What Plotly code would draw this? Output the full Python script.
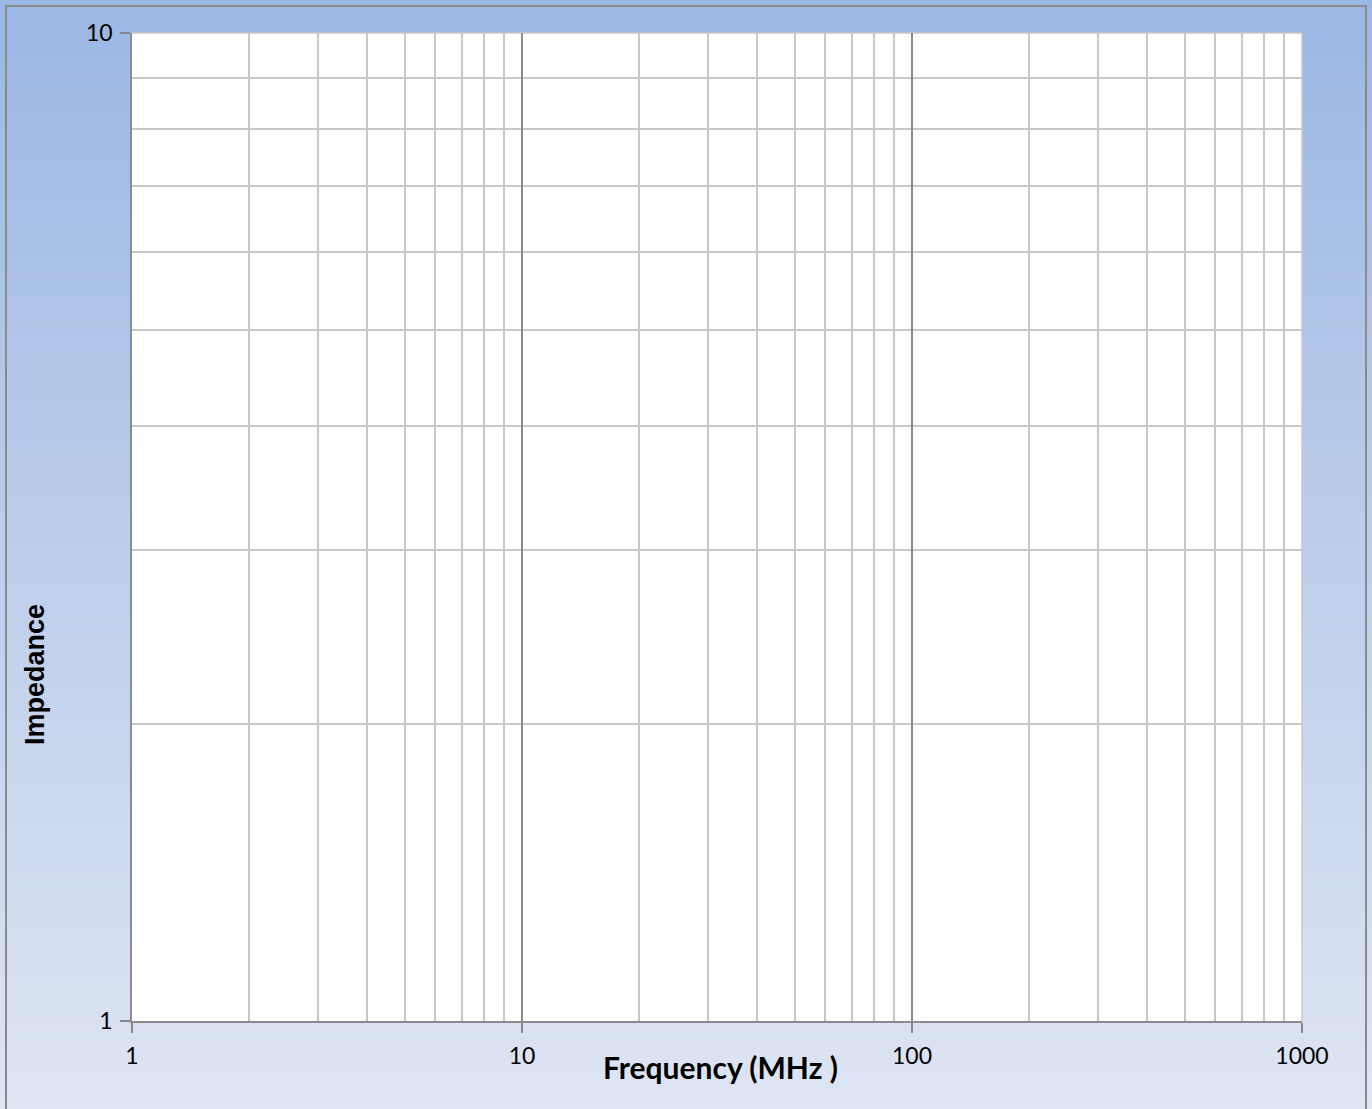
import plotly.graph_objects as go

# ---- data / axis definitions ----
x_range_log = [0, 3]            # 1 .. 1000 MHz
y_range_log = [0, 1]            # 1 .. 10
x_major_ticks = [1, 10, 100, 1000]
x_major_labels = ["1", "10", "100", "1000"]
y_major_ticks = [1, 10]
y_major_labels = ["1", "10"]
x_minor_ticks = [m * d for d in (1, 10, 100) for m in range(2, 10)]
y_minor_ticks = [m for m in range(2, 10)]
x_title = "Frequency (MHz )"
y_title = "Impedance"

W, H = 1372, 1109
L, R, T, B = 132, 1302, 33, 1021
pw, ph = R - L, B - T

def px_x(p):
    return (p - L) / pw

def px_y(p):
    return (B - p) / ph

fig = go.Figure()
fig.add_trace(go.Scatter(x=[], y=[], mode="lines", showlegend=False))

shapes = []
# gradient background (top blue -> bottom pale)
top = (155, 183, 228)
bot = (222, 229, 243)
n = 110
for i in range(n):
    y0p = i * H / n
    y1p = (i + 1) * H / n + 1
    t = (i + 0.5) / n
    c = tuple(round(top[k] + (bot[k] - top[k]) * t) for k in range(3))
    shapes.append(dict(type="rect", xref="paper", yref="paper", layer="below",
                       x0=px_x(0), x1=px_x(W), y0=px_y(y1p), y1=px_y(y0p),
                       fillcolor="rgb(%d,%d,%d)" % c, line=dict(width=0)))
# white plot area
shapes.append(dict(type="rect", xref="paper", yref="paper", layer="below",
                   x0=0, x1=1, y0=0, y1=1, fillcolor="white", line=dict(width=0)))
# outer border
shapes.append(dict(type="rect", xref="paper", yref="paper", layer="above",
                   x0=px_x(6), x1=px_x(1366), y0=px_y(1130), y1=px_y(6),
                   fillcolor="rgba(0,0,0,0)", line=dict(color="#8a8a8a", width=2)))
# plot border lines at top and right (light grey)
shapes.append(dict(type="line", xref="paper", yref="paper", x0=1, x1=1, y0=0, y1=1,
                   line=dict(color="#c8c8c8", width=1.5), layer="below"))
shapes.append(dict(type="line", xref="paper", yref="paper", x0=0, x1=1, y0=1, y1=1,
                   line=dict(color="#c8c8c8", width=1.5), layer="below"))

font_fam = "Lato, 'Open Sans', sans-serif"

fig.update_layout(
    width=W, height=H,
    margin=dict(l=L, r=W - R, t=T, b=H - B, pad=0),
    paper_bgcolor="rgb(222,229,243)",
    plot_bgcolor="rgba(0,0,0,0)",
    shapes=shapes,
    showlegend=False,
    font=dict(family=font_fam, color="#000000"),
    xaxis=dict(type="log", range=x_range_log, tickmode="array",
               tickvals=x_major_ticks, ticktext=x_major_labels,
               ticks="outside", ticklen=10, tickcolor="#888888", tickwidth=1.5,
               showgrid=True, gridcolor="#8c8c8c", gridwidth=1.5,
               showline=True, linecolor="#8c8c8c", linewidth=1.5,
               tickfont=dict(size=23, family=font_fam),
               ticklabelstandoff=4,
               minor=dict(tickmode="array", tickvals=x_minor_ticks, showgrid=True,
                          gridcolor="#c8c8c8", gridwidth=1.5, ticks=""),
               zeroline=False, mirror=False, fixedrange=True),
    yaxis=dict(type="log", range=y_range_log, tickmode="array",
               tickvals=y_major_ticks, ticktext=y_major_labels,
               ticks="outside", ticklen=10, tickcolor="#888888", tickwidth=1.5,
               showgrid=True, gridcolor="#c8c8c8", gridwidth=1.5,
               showline=True, linecolor="#8c8c8c", linewidth=1.5,
               tickfont=dict(size=23, family=font_fam),
               ticklabelstandoff=3,
               minor=dict(tickmode="array", tickvals=y_minor_ticks, showgrid=True,
                          gridcolor="#c8c8c8", gridwidth=1.5, ticks=""),
               zeroline=False, fixedrange=True),
    annotations=[
        dict(text="<b>%s</b>" % x_title, xref="paper", yref="paper",
             x=px_x(720), y=px_y(1067), xanchor="center", yanchor="middle",
             showarrow=False, font=dict(size=30, family=font_fam, color="#000")),
        dict(text="<b>%s</b>" % y_title, xref="paper", yref="paper",
             x=px_x(35), y=px_y(675), xanchor="center", yanchor="middle",
             textangle=-90, showarrow=False,
             font=dict(size=27, family="'Liberation Sans', Arial, sans-serif", color="#000")),
    ],
)

fig.write_html("out.html", config={"displayModeBar": False},
               post_script="document.body.style.margin='0';document.body.style.overflow='hidden';")
